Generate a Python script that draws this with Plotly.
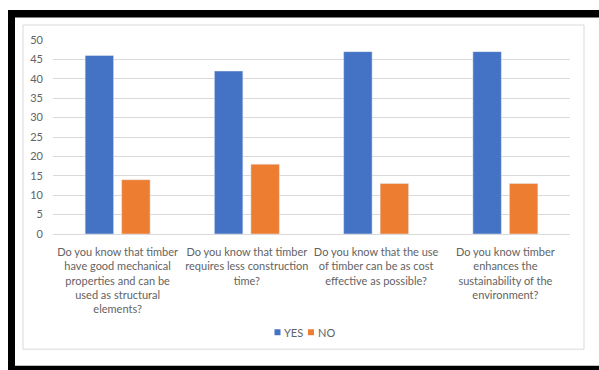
import plotly.graph_objects as go

categories = [
    "Do you know that timber<br>have good mechanical<br>properties and can be<br>used as structural<br>elements?",
    "Do you know that timber<br>requires less construction<br>time?",
    "Do you know that the use<br>of timber can be as cost<br>effective as possible?",
    "Do you know timber<br>enhances the<br>sustainability of the<br>environment?",
]
series_names = ["YES", "NO"]
yes_values = [46, 42, 47, 47]
no_values = [14, 18, 13, 13]
y_ticks = [0, 5, 10, 15, 20, 25, 30, 35, 40, 45, 50]
colors = ["#4472C4", "#ED7D31"]

W, H = 599, 370
L, R, T, B = 53, 570, 40, 234.5


def px(x):
    return (x - L) / (R - L)


def py(y):
    return (B - y) / (B - T)


FONT = "Lato"
GRAY = "#636363"

fig = go.Figure()
fig.add_trace(go.Bar(name=series_names[0], x=categories, y=yes_values, marker_color=colors[0], showlegend=False))
fig.add_trace(go.Bar(name=series_names[1], x=categories, y=no_values, marker_color=colors[1], showlegend=False))

shapes = [
    # inner chart frame
    dict(type="rect", xref="paper", yref="paper", x0=px(23), x1=px(584), y0=py(25), y1=py(350),
         line=dict(color="#d9d9d9", width=1), fillcolor="rgba(0,0,0,0)", layer="below"),
    # black frame
    dict(type="rect", xref="paper", yref="paper", x0=px(8), x1=px(600), y0=py(10), y1=py(17.5),
         line=dict(width=0), fillcolor="black"),
    dict(type="rect", xref="paper", yref="paper", x0=px(8), x1=px(15), y0=py(10), y1=py(371),
         line=dict(width=0), fillcolor="black"),
    dict(type="rect", xref="paper", yref="paper", x0=px(8), x1=px(600), y0=py(366.5), y1=py(371),
         line=dict(width=0), fillcolor="black"),
]

# manual compact legend (Excel style)
annotations = []
legend_pos = [(274.5, 281.5), (308, 315.5)]
legend_y = 333
for name, col, (mx, tx) in zip(series_names, colors, legend_pos):
    shapes.append(dict(type="rect", xref="paper", yref="paper", x0=px(mx), x1=px(mx + 6),
                       y0=py(legend_y - 3), y1=py(legend_y + 3), line=dict(width=0), fillcolor=col))
    annotations.append(dict(xref="paper", yref="paper", x=px(tx), y=py(legend_y + 0.5), text=name,
                            showarrow=False, xanchor="left", yanchor="middle",
                            font=dict(family=FONT, size=11, color=GRAY)))

fig.update_layout(
    width=W, height=H,
    margin=dict(l=L, r=W - R, t=T, b=H - B, pad=0),
    paper_bgcolor="white", plot_bgcolor="white",
    barmode="group", bargap=0.435, bargroupgap=0.22,
    font=dict(family=FONT, size=11, color=GRAY),
    showlegend=False,
    shapes=shapes,
    annotations=annotations,
    xaxis=dict(showgrid=False, showline=False, ticks="", tickangle=0, ticklabelstandoff=10,
               tickfont=dict(size=11, color=GRAY)),
    yaxis=dict(range=[0, 50], tickvals=y_ticks, showgrid=True, gridcolor="#d9d9d9", gridwidth=1,
               zeroline=True, zerolinecolor="#d9d9d9", zerolinewidth=1, showline=False, ticks="",
               ticklabelstandoff=9, tickfont=dict(size=11, color=GRAY)),
)

fig.write_html("out.html")
